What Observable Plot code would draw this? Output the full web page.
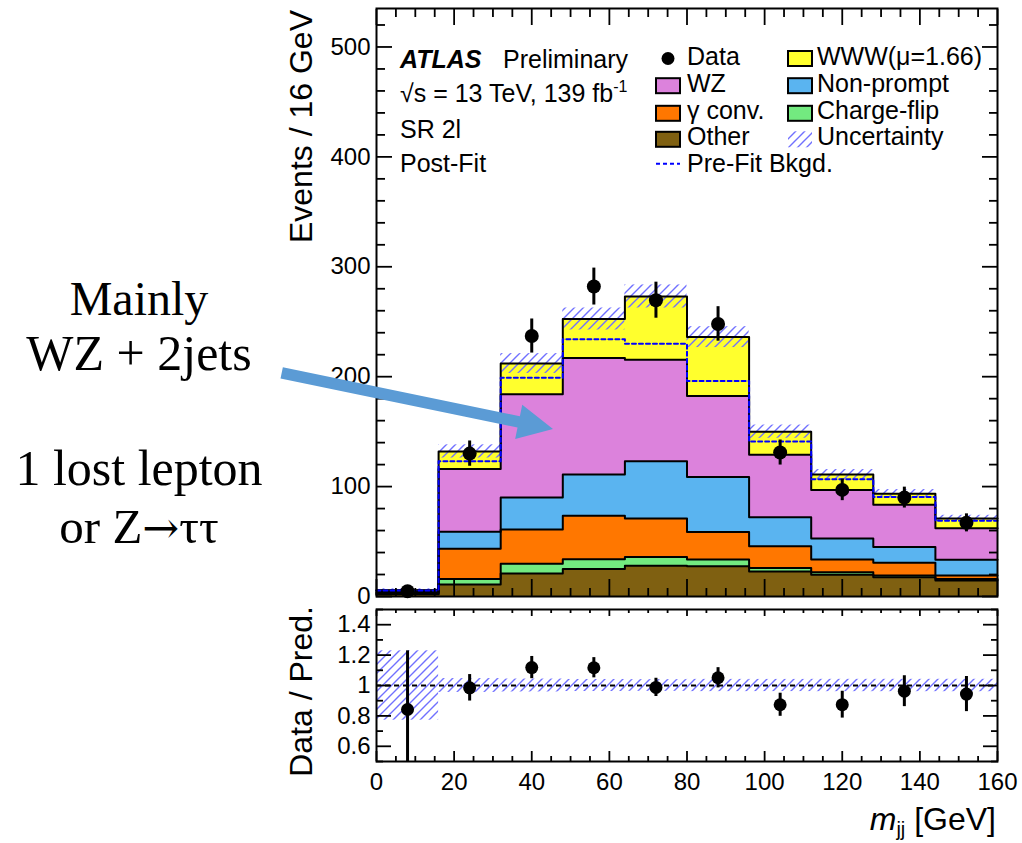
<!DOCTYPE html>
<html>
<head>
<meta charset="utf-8">
<script src="https://cdn.jsdelivr.net/npm/d3@7"></script>
<script src="https://cdn.jsdelivr.net/npm/@observablehq/plot@0.6"></script>
<style>
  body { margin: 0; background: #fff; }
  #wrap { position: relative; width: 1022px; height: 843px; overflow: hidden; background: #fff; }
  #wrap > svg { display: block; }
  #overlay { position: absolute; left: 0; top: 0; pointer-events: none; }
</style>
</head>
<body>
<svg width="0" height="0" style="position:absolute">
  <defs>
    <pattern id="hatch" patternUnits="userSpaceOnUse" width="9" height="9">
      <path d="M-1,1 l2,-2 M0,9 l9,-9 M8,10 l2,-2" stroke="#7070ff" stroke-width="1.4" fill="none"/>
    </pattern>
  </defs>
</svg>
<div id="wrap"></div>
<script>
// ---------------- data ----------------
const binEdges   = [0, 16, 32, 48, 64, 80, 96, 112, 128, 144, 160];
const other      = [2.0, 11.0, 21.0, 25.0, 28.0, 27.6, 22.8, 19.7, 17.6, 14.6];
const chargeFlip = [0.4, 5.0, 8.8, 9.0, 8.0, 6.1, 3.2, 2.3, 1.4, 1.4];
const gammaConv  = [1.0, 27.4, 31.2, 39.5, 35.0, 24.9, 19.8, 11.7, 11.7, 3.0];
const nonPrompt  = [0.8, 15.6, 29.0, 37.5, 52.0, 50.1, 26.2, 19.1, 14.3, 14.4];
const wz         = [1.2, 57.0, 94.0, 106.0, 92.5, 73.8, 57.0, 44.2, 38.5, 28.6];
const www        = [0.3, 16.0, 28.0, 35.5, 57.5, 53.5, 21.0, 14.0, 10.0, 9.0];
const uncert     = [1.3, 6.0, 9.0, 10.0, 10.5, 9.5, 6.0, 4.5, 3.8, 2.9];
const preFit     = [5.5, 123, 199, 234, 230, 196, 141, 106.6, 90.5, 69];
const dataVals   = [4.8, 130, 237, 282, 269.6, 248, 131, 97, 90, 67];
const dataErr    = [2.2, 11.5, 15.5, 16.8, 16.4, 15.7, 11.4, 9.8, 9.5, 8.2];

const layerNames  = ["Other", "Charge-flip", "γ conv.", "Non-prompt", "WZ", "WWW(μ=1.66)"];
const layerValues = [other, chargeFlip, gammaConv, nonPrompt, wz, www];
const layerColors = ["#7f6011", "#73ea80", "#ff7700", "#5ab4f0", "#dc82dc", "#ffff2d"];

const mainYTicks  = [0, 100, 200, 300, 400, 500];
const ratioYTicks = [0.6, 0.8, 1.0, 1.2, 1.4];
const xTicks      = [0, 20, 40, 60, 80, 100, 120, 140, 160];

// annotation arrow (data units of the main panel)
const arrowFrom = [-24.3, 203];
const arrowTo   = [45.6, 152];

// ---------------- derived tables ----------------
const nb = binEdges.length - 1;
const rects = [], steps = [];
const base = new Array(nb).fill(0);
layerValues.forEach((vals, k) => {
  const top = base.map((b, i) => b + vals[i]);
  for (let i = 0; i < nb; i++) {
    rects.push({x1: binEdges[i], x2: binEdges[i + 1], y1: base[i], y2: top[i], fill: layerColors[k]});
  }
  for (let i = 0; i < nb; i++) steps.push({x: binEdges[i], y: top[i], key: layerNames[k]});
  steps.push({x: binEdges[nb], y: top[nb - 1], key: layerNames[k]});
  for (let i = 0; i < nb; i++) base[i] = top[i];
});
const bins = d3.range(nb).map(i => ({
  x1: binEdges[i], x2: binEdges[i + 1], xc: (binEdges[i] + binEdges[i + 1]) / 2,
  total: base[i], unc: uncert[i], data: dataVals[i], err: dataErr[i]
}));
const preSteps = preFit.map((v, i) => ({x: binEdges[i], y: v})).concat([{x: binEdges[nb], y: preFit[nb - 1]}]);

const mainYMinor = d3.range(0, 535, 20).filter(v => v % 100 !== 0);
const xMinor = d3.range(0, 161, 5).filter(v => v % 20 !== 0);
const ratioYMinor = [0.5, 0.7, 0.9, 1.1, 1.3, 1.5];

const FONT = "'Liberation Sans', Arial, Helvetica, sans-serif";
const blank = () => "";
function tickMarks(axis, anchor, ticks, size, sw = 1.8) {
  const f = axis === "x" ? Plot.axisX : Plot.axisY;
  return f({anchor, ticks, tickSize: -size, tickFormat: blank, label: null, strokeWidth: sw});
}

const styleObj = {fontFamily: FONT, fontSize: "24px", color: "black", background: "transparent", overflow: "visible"};

// ---------------- main panel ----------------
const main = Plot.plot({
  width: 1022, height: 600,
  marginLeft: 376, marginRight: 25, marginTop: 8, marginBottom: 4,
  x: {domain: [0, 160]},
  y: {domain: [0, 535]},
  color: {type: "identity"},
  style: styleObj,
  marks: [
    Plot.rect(rects, {x1: "x1", x2: "x2", y1: "y1", y2: "y2", fill: "fill", shapeRendering: "crispEdges"}),
    Plot.rect(bins, {x1: "x1", x2: "x2", y1: d => d.total - d.unc, y2: d => d.total + d.unc, fill: "url(#hatch)"}),
    Plot.line(steps, {x: "x", y: "y", z: "key", curve: "step-after", stroke: "black", strokeWidth: 2}),
    Plot.line(preSteps, {x: "x", y: "y", curve: "step-after", stroke: "#0000ff", strokeWidth: 2, strokeDasharray: "4,3"}),
    Plot.ruleX(bins, {x: "xc", y1: d => d.data - d.err, y2: d => d.data + d.err, stroke: "black", strokeWidth: 3}),
    Plot.dot(bins, {x: "xc", y: "data", r: 7, fill: "black"}),
    Plot.axisY({anchor: "left", ticks: mainYTicks, tickSize: 0, tickPadding: 6, label: null}),
    tickMarks("y", "left", mainYTicks, 16),
    tickMarks("y", "left", mainYMinor, 9),
    tickMarks("y", "right", mainYTicks, 16),
    tickMarks("y", "right", mainYMinor, 9),
    tickMarks("x", "bottom", xTicks, 17),
    tickMarks("x", "bottom", xMinor, 8),
    tickMarks("x", "top", xTicks, 16),
    tickMarks("x", "top", xMinor, 8),
    Plot.frame({stroke: "black", strokeWidth: 2})
  ]
});

// ---------------- ratio panel ----------------
const ratio = Plot.plot({
  width: 1022, height: 243,
  marginLeft: 376, marginRight: 25, marginTop: 9, marginBottom: 82,
  x: {domain: [0, 160]},
  y: {domain: [0.5, 1.5]},
  style: styleObj,
  marks: [
    Plot.rect(bins, {x1: "x1", x2: "x2", y1: d => 1 - d.unc / d.total, y2: d => 1 + d.unc / d.total, fill: "url(#hatch)"}),
    Plot.ruleY([1], {stroke: "black", strokeWidth: 2, strokeDasharray: "5,4"}),
    Plot.ruleX(bins, {x: "xc", y1: d => (d.data - d.err) / d.total, y2: d => (d.data + d.err) / d.total, stroke: "black", strokeWidth: 3, clip: true}),
    Plot.dot(bins, {x: "xc", y: d => d.data / d.total, r: 6.5, fill: "black"}),
    Plot.axisY({anchor: "left", ticks: ratioYTicks, tickSize: 0, tickPadding: 6, label: null, tickFormat: d => String(+d.toFixed(1))}),
    Plot.axisX({anchor: "bottom", ticks: xTicks, tickSize: 0, tickPadding: 11, label: null}),
    tickMarks("y", "left", ratioYTicks, 15),
    tickMarks("y", "left", ratioYMinor, 7),
    tickMarks("y", "right", ratioYTicks, 15),
    tickMarks("y", "right", ratioYMinor, 7),
    tickMarks("x", "bottom", xTicks, 10),
    tickMarks("x", "bottom", xMinor, 5),
    tickMarks("x", "top", xTicks, 6),
    tickMarks("x", "top", xMinor, 3),
    Plot.frame({stroke: "black", strokeWidth: 2})
  ]
});

const wrap = document.getElementById("wrap");
wrap.appendChild(main);
wrap.appendChild(ratio);

// ---------------- overlay: labels, legend, annotations ----------------
const ov = d3.select(wrap).append("svg")
  .attr("id", "overlay").attr("width", 1022).attr("height", 843)
  .attr("font-family", FONT);

function text(x, y, s, opts = {}) {
  const t = ov.append("text").attr("x", x).attr("y", y)
    .attr("font-size", opts.size || 25)
    .attr("text-anchor", opts.anchor || "start")
    .attr("fill", "black");
  if (opts.family) t.attr("font-family", opts.family);
  if (opts.weight) t.attr("font-weight", opts.weight);
  if (opts.style) t.attr("font-style", opts.style);
  if (opts.transform) t.attr("transform", opts.transform).attr("x", 0).attr("y", 0);
  if (s !== null) t.text(s);
  return t;
}

// axis titles
text(0, 0, "Events / 16 GeV", {size: 32, anchor: "end", transform: "translate(312,10) rotate(-90)"});
text(0, 0, "Data / Pred.", {size: 32, anchor: "end", transform: "translate(312,606) rotate(-90)"});
const mt = text(996, 830, null, {size: 32, anchor: "end"});
mt.append("tspan").attr("font-style", "italic").text("m");
mt.append("tspan").attr("font-size", 20).attr("dy", 6).text("jj");
mt.append("tspan").attr("dy", -6).text(" [GeV]");

// ATLAS block
text(400, 68, "ATLAS", {weight: "bold", style: "italic"});
text(503, 68, "Preliminary");
const lum = text(400, 102, null);
lum.append("tspan").text("√s = 13 TeV, 139 fb");
lum.append("tspan").attr("font-size", 16).attr("dy", -10).text("-1");
text(400, 138, "SR 2l");
text(400, 172, "Post-Fit");

// legend
const rowBase = [64.5, 91.7, 119.3, 145.3, 171.7];
const col1Box = 656, col2Box = 788, col1Txt = 687, col2Txt = 817;
ov.append("circle").attr("cx", 668).attr("cy", rowBase[0] - 6).attr("r", 6.5).attr("fill", "black");
text(col1Txt, rowBase[0], "Data");
function box(x, yb, color) {
  ov.append("rect").attr("x", x).attr("y", yb - 13.5).attr("width", 24).attr("height", 15)
    .attr("fill", color).attr("stroke", "black").attr("stroke-width", 2);
}
const legendCol1 = [[4, 1], [2, 2], [0, 3]]; // [layer index, row]
legendCol1.forEach(([k, r]) => { box(col1Box, rowBase[r], layerColors[k]); text(col1Txt, rowBase[r], layerNames[k]); });
const legendCol2 = [[5, 0], [3, 1], [1, 2]];
legendCol2.forEach(([k, r]) => { box(col2Box, rowBase[r], layerColors[k]); text(col2Txt, rowBase[r], layerNames[k]); });
ov.append("rect").attr("x", col2Box).attr("y", rowBase[3] - 14).attr("width", 24).attr("height", 16).attr("fill", "url(#hatch)");
text(col2Txt, rowBase[3], "Uncertainty");
ov.append("line").attr("x1", 656).attr("x2", 680).attr("y1", rowBase[4] - 8).attr("y2", rowBase[4] - 8)
  .attr("stroke", "#0000ff").attr("stroke-width", 2).attr("stroke-dasharray", "4,3");
text(col1Txt, rowBase[4], "Pre-Fit Bkgd.");

// left annotation
const serif = "'Liberation Serif', 'DejaVu Serif', serif";
text(139, 315, "Mainly", {size: 48, anchor: "middle", family: serif});
text(139, 370, "WZ + 2jets", {size: 50, anchor: "middle", family: serif});
text(139, 485, "1 lost lepton", {size: 50, anchor: "middle", family: serif});
const tau = text(139, 543, null, {size: 49, anchor: "middle", family: serif});
tau.append("tspan").text("or Z");
tau.append("tspan").attr("font-family", "'DejaVu Serif', serif").attr("font-size", 44).text("→");
tau.append("tspan").text("ττ");

// arrow
const sx = main.scale("x"), sy = main.scale("y");
const p0 = [sx.apply(arrowFrom[0]), sy.apply(arrowFrom[1])];
const p1 = [sx.apply(arrowTo[0]), sy.apply(arrowTo[1])];
const dx = p1[0] - p0[0], dy = p1[1] - p0[1], len = Math.hypot(dx, dy);
const u = [dx / len, dy / len], n = [-u[1], u[0]];
const hw = 5.8, hl = 35, hh = 17.5;
const b = [p1[0] - u[0] * hl, p1[1] - u[1] * hl];
const pts = [
  [p0[0] + n[0] * hw, p0[1] + n[1] * hw],
  [b[0] + n[0] * hw, b[1] + n[1] * hw],
  [b[0] + n[0] * hh, b[1] + n[1] * hh],
  p1,
  [b[0] - n[0] * hh, b[1] - n[1] * hh],
  [b[0] - n[0] * hw, b[1] - n[1] * hw],
  [p0[0] - n[0] * hw, p0[1] - n[1] * hw]
];
ov.append("polygon").attr("points", pts.map(p => p.join(",")).join(" ")).attr("fill", "#5b9bd5");
</script>
</body>
</html>
